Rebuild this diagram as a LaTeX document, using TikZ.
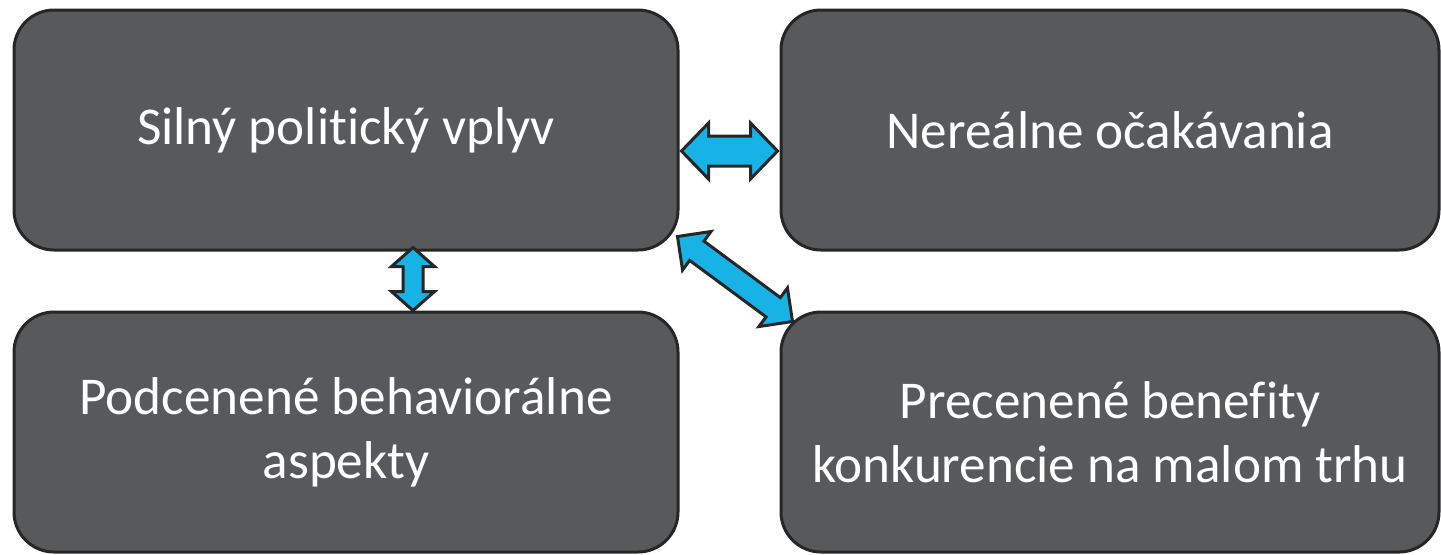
\documentclass[tikz,border=0pt]{standalone}
\usepackage{fontspec}
\setmainfont[RawFeature={-liga;-clig;-calt;-dlig}]{Carlito}
\usetikzlibrary{calc}

\definecolor{boxgray}{HTML}{58595B}
\definecolor{boxline}{HTML}{262626}
\definecolor{arrowblue}{HTML}{17B3E7}

% block arrow with two heads: from, to, half shaft, half head, head length
\newcommand{\twoway}[5]{%
  \draw[linkarrow] (#1)
    -- ($(#1)!#5!(#2)!#4!90:(#2)$) -- ($(#1)!#5!(#2)!#3!90:(#2)$)
    -- ($(#2)!#5!(#1)!#3!-90:(#1)$) -- ($(#2)!#5!(#1)!#4!-90:(#1)$)
    -- (#2)
    -- ($(#2)!#5!(#1)!#4!90:(#1)$) -- ($(#2)!#5!(#1)!#3!90:(#1)$)
    -- ($(#1)!#5!(#2)!#3!-90:(#2)$) -- ($(#1)!#5!(#2)!#4!-90:(#2)$)
    -- cycle;
}

\begin{document}
\begin{tikzpicture}[
        x=0.5pt, y=-0.5pt,
        factorbox/.style={draw=boxline, fill=boxgray, line width=1.5pt,
            rounded corners=20pt, minimum height=120pt, align=center,
            text=white, font=\fontsize{26.6pt}{32pt}\selectfont},
        linkarrow/.style={draw=boxline, fill=arrowblue, line width=1.5pt,
            line join=miter}
    ]
    \useasboundingbox (0, 0) rectangle (1441, 554);

    % factors
    \node[factorbox, minimum width=332pt] (tl) at (346, 130) {Silný politický vplyv};
    \node[factorbox, minimum width=329pt] (tr) at (1110, 130) {Nereálne očakávania};
    \node[factorbox, minimum width=332pt] (bl) at (346, 432) {Podcenené behaviorálne\\aspekty};
    \node[factorbox, minimum width=329pt] (br) at (1110, 432) {Precenené benefity\\konkurencie na malom trhu};

    % arrow ends
    \coordinate (h1) at ($(tl.east)+(2, 21)$);
    \coordinate (h2) at ($(tr.west)+(-2, 21)$);
    \coordinate (v1) at ($(tl.south)+(67, -4)$);
    \coordinate (v2) at ($(bl.north)+(67, 0)$);
    \coordinate (d1) at ($(tl.south east)+(-2, -15)$);
    \coordinate (d2) at ($(br.north west)+(13, 11)$);

    % links
    \twoway{h1}{h2}{7.5pt}{14pt}{13.5pt}
    \twoway{v1}{v2}{5pt}{10.75pt}{9.5pt}
    \twoway{d1}{d2}{6pt}{12pt}{12pt}

\end{tikzpicture}
\end{document}
